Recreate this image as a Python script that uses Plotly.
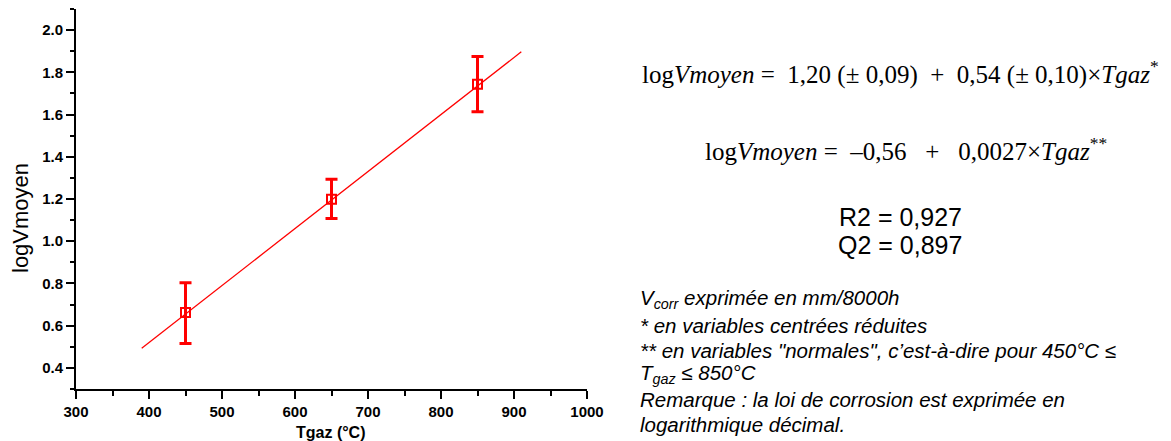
import plotly.graph_objects as go

# Measured corrosion rate (log scale) versus gas temperature
t_gaz = [450, 650, 850]
log_v_moyen = [0.662, 1.199, 1.744]
err_plus = [0.141, 0.095, 0.131]
err_minus = [0.147, 0.091, 0.131]

# Regression law in "normal" variables: logVmoyen = -0.56 + 0.0027 * Tgaz
fit_intercept = -0.56
fit_slope = 0.0027
fit_t = [390, 910]
fit_log_v = [fit_intercept + fit_slope * t for t in fit_t]

x_ticks = [300, 400, 500, 600, 700, 800, 900, 1000]
y_ticks = [0.4, 0.6, 0.8, 1.0, 1.2, 1.4, 1.6, 1.8, 2.0]

RED = "#ff0000"
SANS = "Liberation Sans, Arial, sans-serif"
SERIF = "Liberation Serif, Times New Roman, serif"

FIG_W, FIG_H = 1171, 441
M_L, M_R, M_T, M_B = 76, 584, 9, 52
PLOT_W = FIG_W - M_L - M_R
PLOT_H = FIG_H - M_T - M_B


def px(x):
    return (x - M_L) / PLOT_W


def py(y):
    return (FIG_H - M_B - y) / PLOT_H


fig = go.Figure()

fig.add_trace(go.Scatter(
    x=fit_t, y=fit_log_v, mode="lines",
    line=dict(color=RED, width=1.3), hoverinfo="skip", showlegend=False,
))

fig.add_trace(go.Scatter(
    x=t_gaz, y=log_v_moyen, mode="markers",
    marker=dict(symbol="square-open", size=9, color=RED, line=dict(color=RED, width=2)),
    error_y=dict(type="data", array=err_plus, arrayminus=err_minus, symmetric=False,
                 color=RED, thickness=3, width=6),
    showlegend=False,
))

axis_common = dict(
    showline=True, linewidth=2, linecolor="black", mirror=False,
    showgrid=False, zeroline=False,
    ticks="outside", ticklen=8, tickwidth=2, tickcolor="black",
    tickfont=dict(family=SANS, size=15, color="black"),
)

fig.update_xaxes(
    range=[300, 1000], tickvals=x_ticks, ticktext=[f"<b>{v}</b>" for v in x_ticks],
    minor=dict(dtick=50, tick0=300, ticks="outside", ticklen=5, tickwidth=2, tickcolor="black"),
    **axis_common,
)
fig.update_yaxes(
    range=[0.3, 2.1], tickvals=y_ticks, ticktext=[f"<b>{v:.1f}</b>" for v in y_ticks],
    minor=dict(dtick=0.1, tick0=0.3, ticks="outside", ticklen=4, tickwidth=2, tickcolor="black"),
    **axis_common,
)

annotations = [
    # axis titles
    dict(x=px(20), y=py(218), text="logVmoyen", textangle=-90,
         font=dict(family=SANS, size=22, color="black")),
    dict(x=px(331), y=py(432), text="<b>Tgaz (°C)</b>",
         font=dict(family=SANS, size=16, color="black")),
    # regression equations
    dict(x=px(900), y=py(73),
         text="log<i>Vmoyen</i> =\u00a0 1,20 (± 0,09)\u00a0 +\u00a0 0,54 (± 0,10)×<i>Tgaz</i><sup>*</sup>",
         font=dict(family=SERIF, size=25, color="black")),
    dict(x=px(906), y=py(149),
         text="log<i>Vmoyen</i> =\u00a0 –0,56\u00a0\u00a0 +\u00a0\u00a0 0,0027×<i>Tgaz</i><sup>**</sup>",
         font=dict(family=SERIF, size=25, color="black")),
    dict(x=px(900), y=py(217), text="R2 = 0,927",
         font=dict(family=SANS, size=25, color="black")),
    dict(x=px(900), y=py(245), text="Q2 = 0,897",
         font=dict(family=SANS, size=25, color="black")),
]

notes = [
    "<i>V<sub>corr</sub> exprimée en mm/8000h</i>",
    "<i>* en variables centrées réduites</i>",
    "<i>** en variables \"normales\", c’est-à-dire pour 450°C ≤</i>",
    "<i>T<sub>gaz</sub> ≤ 850°C</i>",
    "<i>Remarque : la loi de corrosion est exprimée en</i>",
    "<i>logarithmique décimal.</i>",
]
note_y = [299, 325, 350, 374, 399, 424]
for text, y in zip(notes, note_y):
    annotations.append(dict(x=px(638), y=py(y), text=text, xanchor="left",
                            font=dict(family=SANS, size=20.5, color="black")))

for a in annotations:
    a.setdefault("xanchor", "center")
    a.setdefault("yanchor", "middle")
    a.update(xref="paper", yref="paper", showarrow=False)

fig.update_layout(
    width=FIG_W, height=FIG_H,
    margin=dict(l=M_L, r=M_R, t=M_T, b=M_B, pad=0),
    paper_bgcolor="white", plot_bgcolor="white",
    annotations=annotations,
)

fig.write_html("out.html")
